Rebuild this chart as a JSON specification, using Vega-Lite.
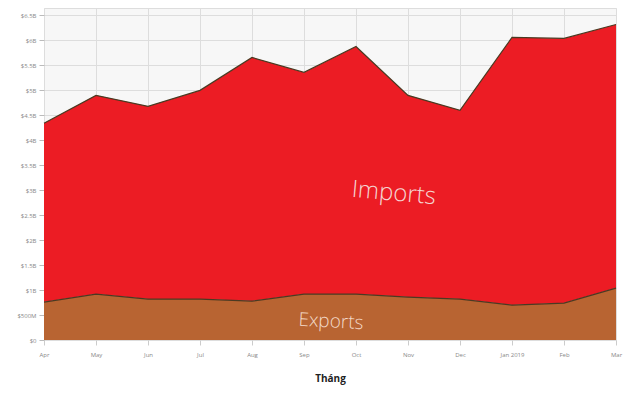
{
  "$schema": "https://vega.github.io/schema/vega-lite/v6.json",
  "width": 572,
  "height": 332,
  "autosize": {"type": "none"},
  "padding": {"left": 44, "top": 8, "right": 14, "bottom": 56},
  "background": "white",
  "config": {
    "view": {"fill": "#f7f7f7", "stroke": "#dddddd"},
    "font": "Open Sans"
  },
  "datasets": {
    "trade": [
      {"month": "Apr", "series": "Exports", "value": 0.76, "ord": 1},
      {"month": "May", "series": "Exports", "value": 0.92, "ord": 1},
      {"month": "Jun", "series": "Exports", "value": 0.82, "ord": 1},
      {"month": "Jul", "series": "Exports", "value": 0.82, "ord": 1},
      {"month": "Aug", "series": "Exports", "value": 0.78, "ord": 1},
      {"month": "Sep", "series": "Exports", "value": 0.92, "ord": 1},
      {"month": "Oct", "series": "Exports", "value": 0.92, "ord": 1},
      {"month": "Nov", "series": "Exports", "value": 0.86, "ord": 1},
      {"month": "Dec", "series": "Exports", "value": 0.82, "ord": 1},
      {"month": "Jan 2019", "series": "Exports", "value": 0.70, "ord": 1},
      {"month": "Feb", "series": "Exports", "value": 0.74, "ord": 1},
      {"month": "Mar", "series": "Exports", "value": 1.04, "ord": 1},
      {"month": "Apr", "series": "Imports", "value": 3.58, "ord": 2},
      {"month": "May", "series": "Imports", "value": 3.98, "ord": 2},
      {"month": "Jun", "series": "Imports", "value": 3.86, "ord": 2},
      {"month": "Jul", "series": "Imports", "value": 4.18, "ord": 2},
      {"month": "Aug", "series": "Imports", "value": 4.88, "ord": 2},
      {"month": "Sep", "series": "Imports", "value": 4.44, "ord": 2},
      {"month": "Oct", "series": "Imports", "value": 4.96, "ord": 2},
      {"month": "Nov", "series": "Imports", "value": 4.04, "ord": 2},
      {"month": "Dec", "series": "Imports", "value": 3.78, "ord": 2},
      {"month": "Jan 2019", "series": "Imports", "value": 5.36, "ord": 2},
      {"month": "Feb", "series": "Imports", "value": 5.30, "ord": 2},
      {"month": "Mar", "series": "Imports", "value": 5.28, "ord": 2}
    ],
    "labels": [
      {"month": "Oct", "value": 3.0, "label": "Imports", "series": "Imports"},
      {"month": "Sep", "value": 0.4, "label": "Exports", "series": "Exports"}
    ]
  },
  "encoding": {
    "x": {
      "field": "month",
      "type": "ordinal",
      "sort": ["Apr", "May", "Jun", "Jul", "Aug", "Sep", "Oct", "Nov", "Dec", "Jan 2019", "Feb", "Mar"],
      "scale": {"type": "point", "padding": 0},
      "axis": {
        "title": "Tháng",
        "titleFont": "Open Sans",
        "titleFontWeight": "bold",
        "titleFontSize": 10,
        "titleColor": "#222222",
        "titlePadding": 16,
        "labelAngle": 0,
        "labelFontSize": 6,
        "labelColor": "#888888",
        "labelPadding": 6,
        "labelOverlap": false,
        "tickColor": "#cccccc",
        "tickSize": 5,
        "domain": false,
        "grid": true,
        "gridColor": "#dddddd"
      }
    },
    "y": {
      "field": "value",
      "type": "quantitative",
      "stack": "zero",
      "scale": {"domain": [0, 6.65], "nice": false},
      "axis": {
        "title": null,
        "values": [0, 0.5, 1, 1.5, 2, 2.5, 3, 3.5, 4, 4.5, 5, 5.5, 6, 6.5],
        "labelExpr": "datum.value == 0 ? '$0' : (datum.value < 1 ? '$500M' : '$' + datum.value + 'B')",
        "labelOverlap": false,
        "labelFontSize": 6,
        "labelColor": "#888888",
        "tickColor": "#bbbbbb",
        "tickSize": 5,
        "labelPadding": 3,
        "domain": false,
        "grid": true,
        "gridColor": "#dddddd"
      }
    }
  },
  "layer": [
    {
      "data": {"name": "trade"},
      "mark": {"type": "area", "line": false},
      "encoding": {
        "color": {
          "field": "series",
          "type": "nominal",
          "scale": {"domain": ["Exports", "Imports"], "range": ["#b86432", "#ec1c24"]},
          "legend": null
        },
        "order": {"field": "ord", "type": "quantitative"}
      }
    },
    {
      "data": {"name": "trade"},
      "mark": {"type": "line", "color": "#4a3a22", "strokeWidth": 1.2},
      "encoding": {
        "detail": {"field": "series", "type": "nominal"},
        "order": {"field": "ord", "type": "quantitative"}
      }
    },
    {
      "data": {"name": "labels"},
      "mark": {"type": "text", "dx": 38, "angle": 5, "fontSize": 24, "fontWeight": 300, "font": "Open Sans", "color": "#f5d4d0", "align": "center", "baseline": "middle"},
      "transform": [{"filter": "datum.series == 'Imports'"}],
      "encoding": {
        "y": {"field": "value", "type": "quantitative"},
        "text": {"field": "label"}
      }
    },
    {
      "data": {"name": "labels"},
      "mark": {"type": "text", "dx": 27, "angle": 3, "fontSize": 19, "fontWeight": 300, "font": "Open Sans", "color": "#f3d9c8", "align": "center", "baseline": "middle"},
      "transform": [{"filter": "datum.series == 'Exports'"}],
      "encoding": {
        "y": {"field": "value", "type": "quantitative"},
        "text": {"field": "label"}
      }
    }
  ]
}
